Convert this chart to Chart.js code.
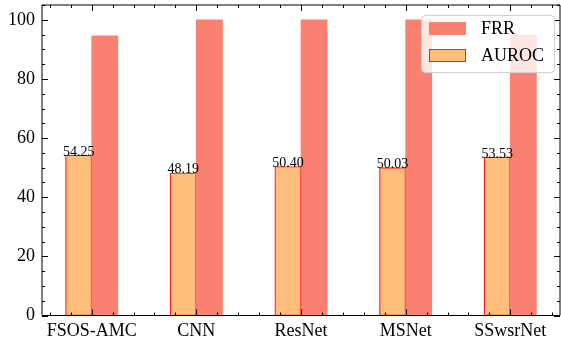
<!DOCTYPE html>
<html>
<head>
<meta charset="utf-8">
<script src="https://cdn.jsdelivr.net/npm/chart.js@4/dist/chart.umd.min.js"></script>
<style>
  html, body { margin: 0; padding: 0; background: #fff; }
  canvas { display: block; }
</style>
</head>
<body>
<canvas id="c" width="561" height="345"></canvas>
<script>
// Models compared
const categories = ['FSOS-AMC', 'CNN', 'ResNet', 'MSNet', 'SSwsrNet'];
// False rejection rate (%)
const frrValues = [94.6, 100, 100, 100, 94.8];
// AUROC (%)
const aurocValues = [54.25, 48.19, 50.40, 50.03, 53.53];
// Axis ticks
const yMajorTicks = [0, 20, 40, 60, 80, 100];

const FONT = "'Liberation Serif', 'Times New Roman', serif";
const BAR_W = 0.25;

const toPoints = (vals, shift) => vals.map((v, i) => ({ x: i + shift, y: v }));

// Inward ticks on all four sides, spines, value labels and a framed legend
const framePlugin = {
  id: 'frame',
  afterDatasetsDraw(chart) {
    const { ctx } = chart;
    ctx.save();
    // value labels above AUROC bars
    const meta = chart.getDatasetMeta(1);
    ctx.fillStyle = '#000';
    ctx.font = '14px ' + FONT;
    ctx.textAlign = 'center';
    ctx.textBaseline = 'alphabetic';
    meta.data.forEach((bar, i) => {
      ctx.fillText(aurocValues[i].toFixed(2), bar.x, bar.y + 0.5);
    });
    ctx.restore();
  },
  afterDraw(chart) {
    const { ctx, chartArea: a, scales: { x, y } } = chart;
    ctx.save();
    ctx.strokeStyle = '#000';
    ctx.lineWidth = 1;
    ctx.beginPath();
    ctx.rect(a.left, a.top, a.right - a.left, a.bottom - a.top);
    ctx.stroke();

    const tick = (x1, y1, x2, y2) => { ctx.moveTo(x1, y1); ctx.lineTo(x2, y2); };
    ctx.beginPath();
    // x ticks: major at categories, minor every 0.2
    for (let k = -2; k <= 22; k++) {
      const v = k / 5;
      if (v < x.min || v > x.max) continue;
      const px = Math.round(x.getPixelForValue(v)) + 0.5;
      const len = (k % 5 === 0) ? 6 : 3;
      tick(px, a.bottom, px, a.bottom - len);
      tick(px, a.top, px, a.top + len);
    }
    // y ticks: major every 20, minor every 5
    for (let v = 0; v <= y.max; v += 5) {
      const py = Math.round(y.getPixelForValue(v)) + 0.5;
      const len = (v % 20 === 0) ? 6 : 3;
      tick(a.left, py, a.left + len, py);
      tick(a.right, py, a.right - len, py);
    }
    ctx.stroke();

    // legend, upper right
    const lx = 421, ly = 15, lw = 133, lh = 57;
    ctx.beginPath();
    ctx.roundRect(lx + 0.5, ly + 0.5, lw, lh, 4);
    ctx.fillStyle = 'rgba(255,255,255,0.8)';
    ctx.fill();
    ctx.strokeStyle = '#d0d0d0';
    ctx.stroke();

    ctx.font = '18px ' + FONT;
    ctx.textAlign = 'left';
    ctx.textBaseline = 'middle';
    chart.data.datasets.forEach((ds, i) => {
      const ry = ly + 7 + i * 27;
      ctx.fillStyle = ds.backgroundColor;
      ctx.fillRect(lx + 8, ry, 37, 13);
      if (ds.borderWidth) {
        ctx.strokeStyle = ds.borderColor;
        ctx.lineWidth = 1;
        ctx.strokeRect(lx + 8.5, ry + 0.5, 36, 12);
      }
      ctx.fillStyle = '#000';
      ctx.fillText(ds.label, lx + 60, ry + 7);
    });
    ctx.restore();
  }
};

new Chart(document.getElementById('c'), {
  type: 'bar',
  data: {
    datasets: [
      {
        label: 'FRR',
        data: toPoints(frrValues, BAR_W / 2),
        backgroundColor: '#FA8072',
        borderWidth: 0
      },
      {
        label: 'AUROC',
        data: toPoints(aurocValues, -BAR_W / 2),
        backgroundColor: '#FFBE7B',
        borderColor: '#FF1A1A',
        borderWidth: 1.2,
        borderSkipped: false
      }
    ]
  },
  options: {
    responsive: false,
    animation: false,
    devicePixelRatio: 1,
    grouped: false,
    barPercentage: 1,
    categoryPercentage: 1,
    layout: { padding: { left: 0, top: 5, right: 1, bottom: 0 } },
    plugins: { legend: { display: false }, tooltip: { enabled: false } },
    scales: {
      x: {
        type: 'linear',
        offset: false,
        min: -0.475,
        max: 4.475,
        grid: { display: false, drawTicks: false, offset: false },
        border: { display: false },
        afterBuildTicks: (s) => { s.ticks = categories.map((_, i) => ({ value: i })); },
        afterFit: (s) => { s.height = 29.5; s.paddingLeft = 0; s.paddingRight = 0; },
        ticks: {
          autoSkip: false,
          maxRotation: 0,
          padding: 5,
          color: '#000',
          font: { family: FONT, size: 18 },
          callback: (v) => categories[v]
        }
      },
      y: {
        min: 0,
        max: 105,
        grid: { display: false, drawTicks: false },
        border: { display: false },
        afterBuildTicks: (s) => { s.ticks = yMajorTicks.map(v => ({ value: v })); },
        afterFit: (s) => { s.width = 42; s.paddingTop = 0; s.paddingBottom = 0; },
        ticks: {
          padding: 7,
          color: '#000',
          font: { family: FONT, size: 18 }
        }
      }
    }
  },
  plugins: [framePlugin]
});
</script>
</body>
</html>
